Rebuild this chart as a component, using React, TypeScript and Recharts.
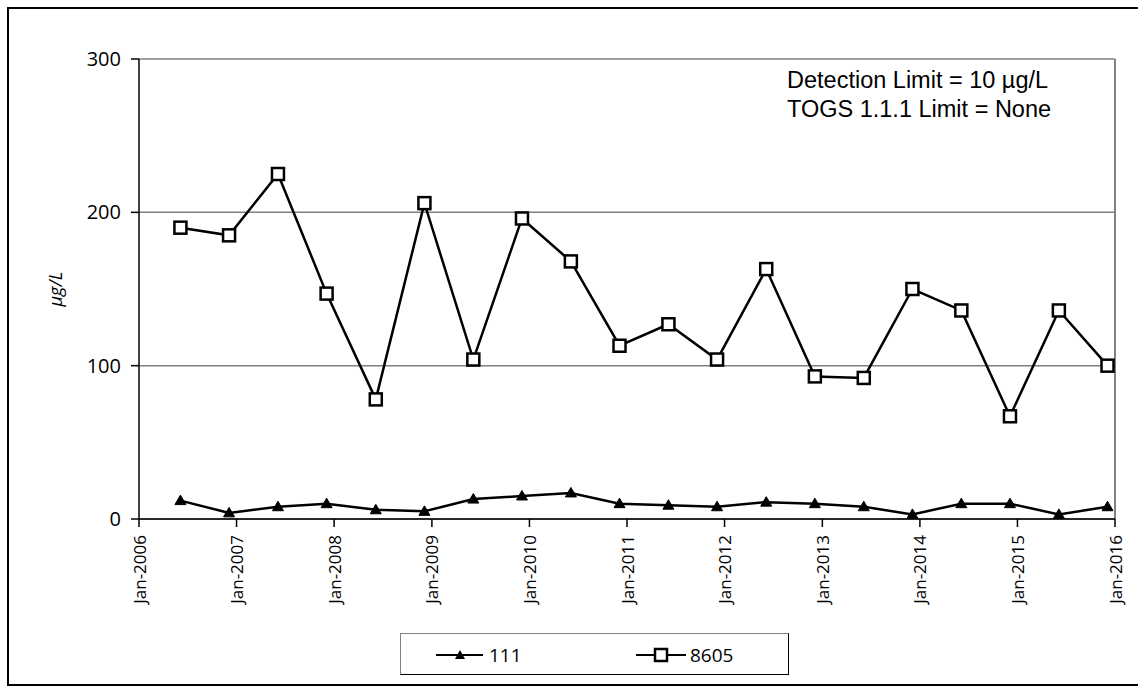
import { LineChart, Line, XAxis, YAxis, CartesianGrid, ReferenceLine } from "recharts";

// sampling dates (semi-annual) and concentrations in µg/L
const sampleDates = [
    "2006-06-05", "2006-12-04", "2007-06-05", "2007-12-04", "2008-06-05",
    "2008-12-04", "2009-06-05", "2009-12-04", "2010-06-05", "2010-12-04",
    "2011-06-05", "2011-12-04", "2012-06-05", "2012-12-04", "2013-06-05",
    "2013-12-04", "2014-06-05", "2014-12-04", "2015-06-05", "2015-12-04",
];
const well111 = [12, 4, 8, 10, 6, 5, 13, 15, 17, 10, 9, 8, 11, 10, 8, 3, 10, 10, 3, 8];
const well8605 = [190, 185, 225, 147, 78, 206, 104, 196, 168, 113, 127, 104, 163, 93, 92, 150, 136, 67, 136, 100];
const yTicks = [0, 100, 200, 300];
const tickYears = [2006, 2007, 2008, 2009, 2010, 2011, 2012, 2013, 2014, 2015, 2016];
const noteLines = ["Detection Limit = 10 µg/L", "TOGS 1.1.1 Limit = None"];

const xTicks = tickYears.map((y) => Date.UTC(y, 0, 1));
const data = sampleDates.map((d, i) => ({
    t: new Date(d + "T00:00:00Z").getTime(),
    w111: well111[i],
    w8605: well8605[i],
}));

const tickFont = "'Open Sans', sans-serif";

const fmtTick = (v: number) => {
    const d = new Date(v);
    return `Jan-${d.getUTCFullYear()}`;
};

const XTick = ({ x, y, payload }: any) => (
    <text
        x={x}
        y={y}
        transform={`rotate(-90 ${x} ${y})`}
        textAnchor="end"
        dominantBaseline="central"
        fontSize={17}
        fontFamily={tickFont}
        fill="#000"
    >
        {fmtTick(payload.value)}
    </text>
);

const TriangleDot = (props: any) => {
    const { cx, cy, index } = props;
    if (cx == null || cy == null) return null;
    return (
        <path
            key={`tri-${index}`}
            d={`M${cx},${cy - 5.5} L${cx + 5.5},${cy + 4} L${cx - 5.5},${cy + 4} Z`}
            fill="#000"
            stroke="#000"
            strokeWidth={1}
        />
    );
};

const SquareDot = (props: any) => {
    const { cx, cy, index } = props;
    if (cx == null || cy == null) return null;
    return (
        <rect key={`sq-${index}`} x={cx - 6} y={cy - 6} width={12} height={12} fill="#fff" stroke="#000" strokeWidth={2.5} />
    );
};

const App = () => {
    return (
        <div style={{ position: "absolute", left: 0, top: 0, width: 1138, height: 691, overflow: "hidden", background: "#fff" }}>
            <div style={{ position: "absolute", left: 7, top: 7, width: 1140, height: 675, border: "2px solid #000" }} />
            <div style={{ position: "absolute", left: 0, top: 0 }}>
                <LineChart width={1138} height={691} data={data} margin={{ top: 59, right: 23, bottom: 72, left: 0 }}>
                    <CartesianGrid vertical={false} stroke="#808080" strokeWidth={1.5} />
                    <XAxis
                        dataKey="t"
                        type="number"
                        domain={[xTicks[0], xTicks[xTicks.length - 1]]}
                        ticks={xTicks}
                        tick={<XTick />}
                        tickSize={8}
                        tickMargin={8}
                        height={100}
                        interval={0}
                        axisLine={{ stroke: "#000", strokeWidth: 1.5 }}
                        tickLine={{ stroke: "#000", strokeWidth: 1.5 }}
                    />
                    <YAxis
                        domain={[0, 300]}
                        ticks={yTicks}
                        width={139}
                        tickSize={8}
                        tickMargin={10}
                        axisLine={{ stroke: "#000", strokeWidth: 1.5 }}
                        tickLine={{ stroke: "#000", strokeWidth: 1.5 }}
                        tick={{ fill: "#000", fontSize: 20, fontFamily: tickFont }}
                        label={{
                            value: "µg/L",
                            angle: -90,
                            position: "insideLeft",
                            offset: 56,
                            style: { textAnchor: "middle", fontStyle: "italic", fontSize: 18, fontFamily: tickFont, fill: "#000" },
                        }}
                    />
                    <ReferenceLine x={xTicks[xTicks.length - 1]} stroke="#808080" strokeWidth={2} />
                    <Line
                        type="linear"
                        dataKey="w111"
                        stroke="#000"
                        strokeWidth={2.5}
                        dot={TriangleDot}
                        activeDot={false}
                        isAnimationActive={false}
                    />
                    <Line
                        type="linear"
                        dataKey="w8605"
                        stroke="#000"
                        strokeWidth={2.5}
                        dot={SquareDot}
                        activeDot={false}
                        isAnimationActive={false}
                    />
                </LineChart>
            </div>
            <div
                style={{
                    position: "absolute",
                    left: 787,
                    top: 66,
                    fontFamily: "'Liberation Sans', Arial, sans-serif",
                    fontSize: 23.5,
                    lineHeight: "29px",
                    color: "#000",
                    whiteSpace: "nowrap",
                }}
            >
                {noteLines.map((l) => (
                    <div key={l}>{l}</div>
                ))}
            </div>
            {/* legend box */}
            <div
                style={{
                    position: "absolute",
                    left: 400,
                    top: 633,
                    width: 387,
                    height: 40,
                    borderTop: "1px solid #808080",
                    borderLeft: "1px solid #808080",
                    borderRight: "1px solid #000",
                    borderBottom: "1px solid #000",
                    fontFamily: tickFont,
                    fontSize: 19,
                }}
            >
                <svg width={387} height={40} style={{ position: "absolute", left: 0, top: 0 }}>
                    <line x1={35} x2={82} y1={21} y2={21} stroke="#000" strokeWidth={2} />
                    <path d="M59,16 L64,25 L54,25 Z" fill="#000" />
                    <text x={88} y={21} dominantBaseline="central" fill="#000">111</text>
                    <line x1={235} x2={285} y1={21} y2={21} stroke="#000" strokeWidth={2} />
                    <rect x={254} y={15} width={12} height={12} fill="#fff" stroke="#000" strokeWidth={2.5} />
                    <text x={289} y={21} dominantBaseline="central" fill="#000">8605</text>
                </svg>
            </div>
        </div>
    );
};

export default App;
